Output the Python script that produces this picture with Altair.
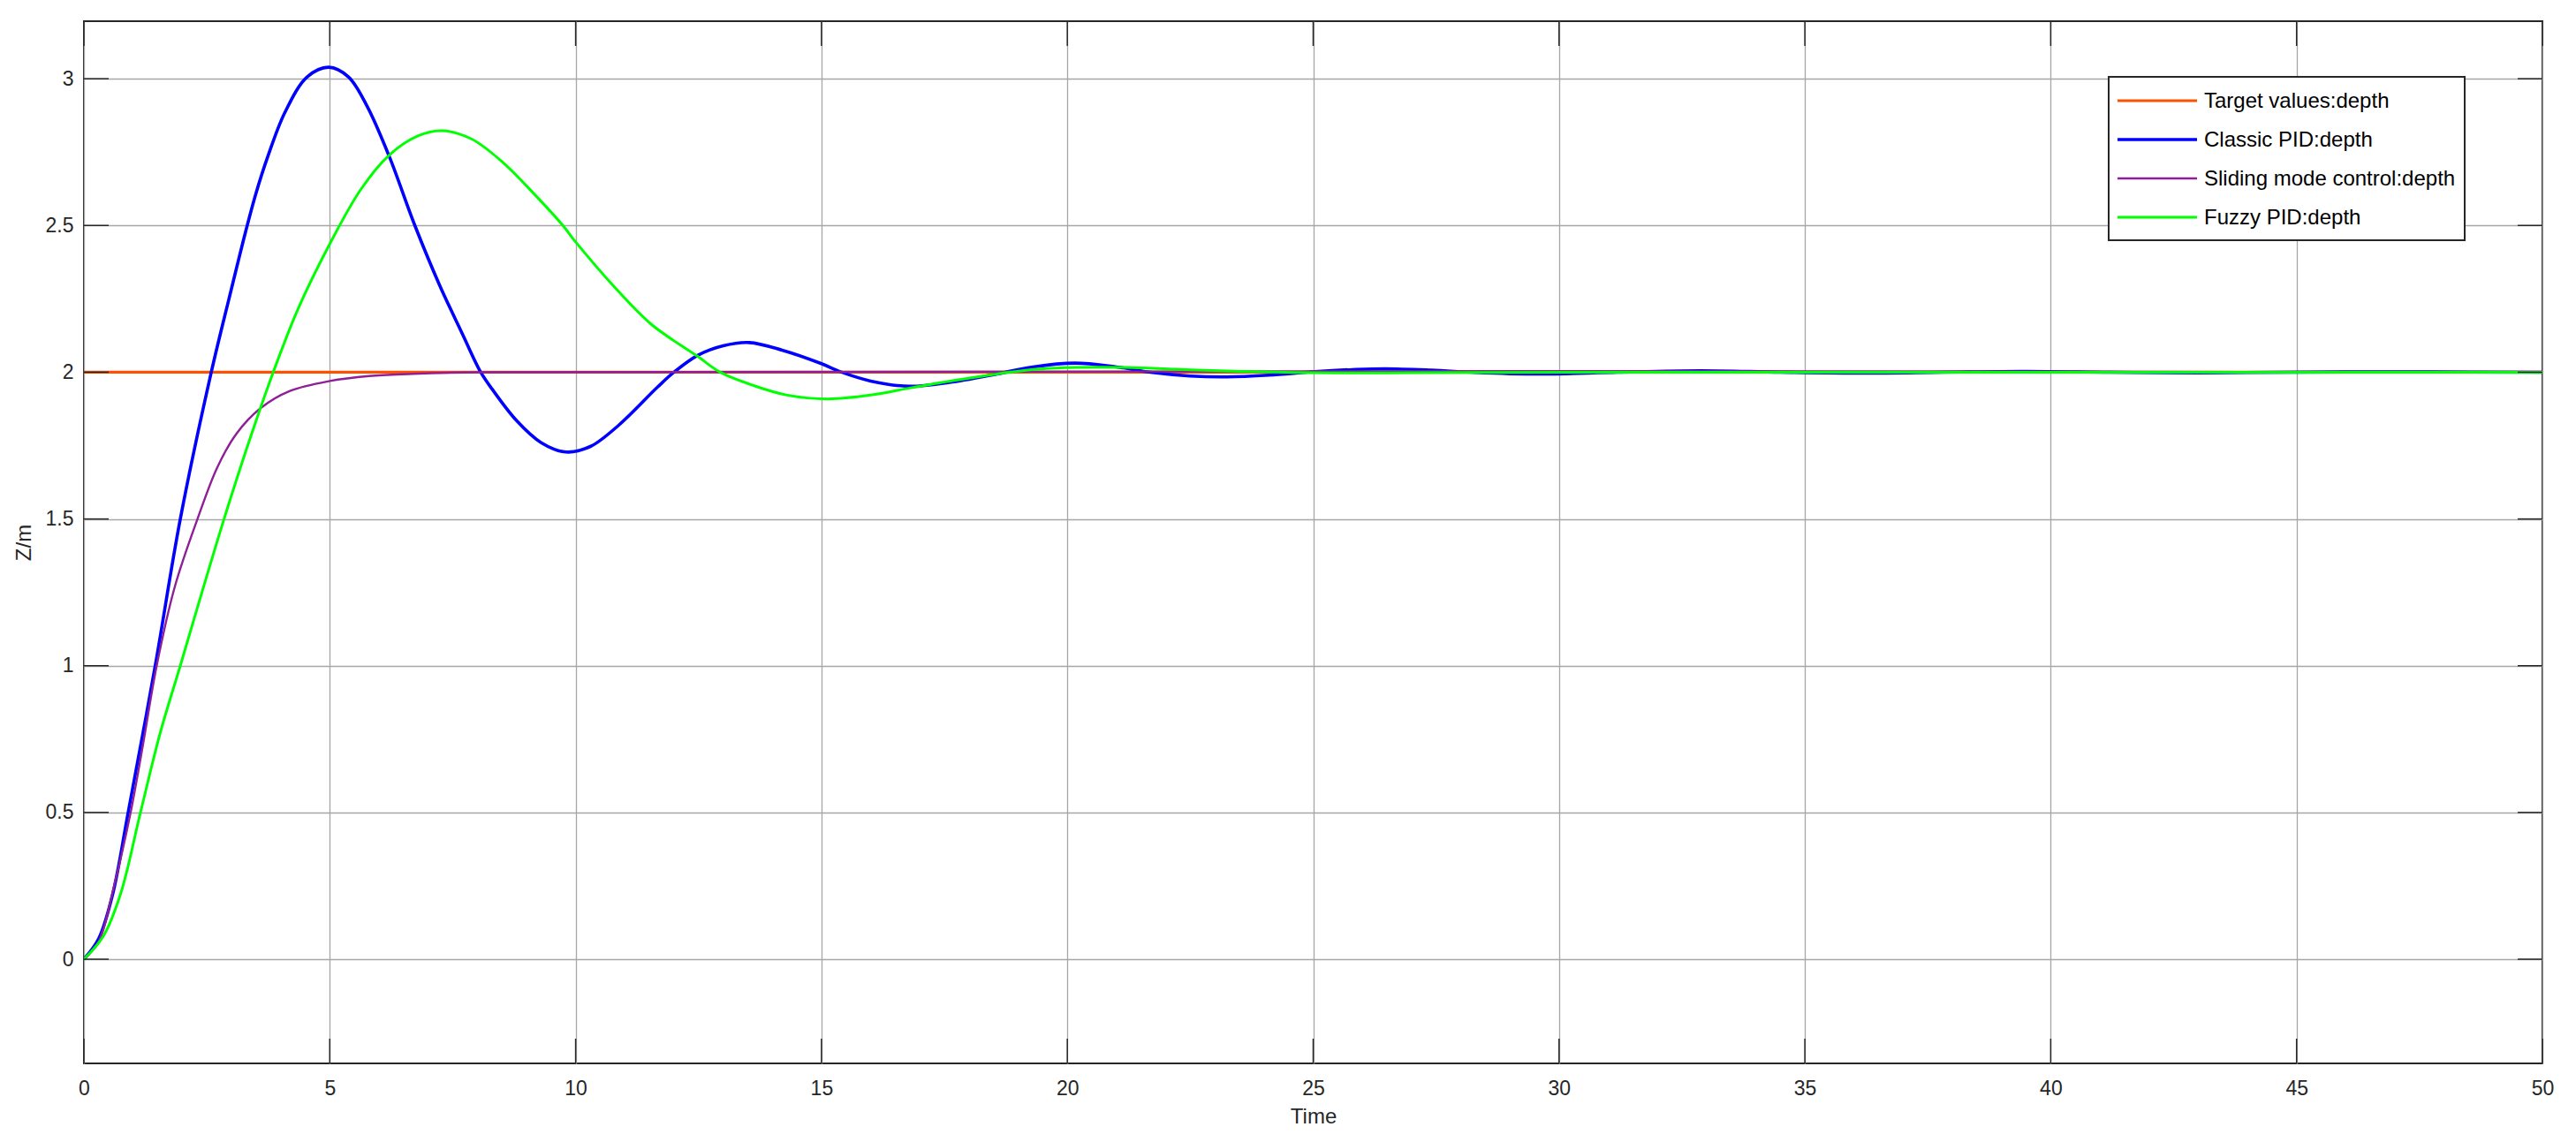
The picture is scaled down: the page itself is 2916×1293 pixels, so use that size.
import altair as alt
import pandas as pd

# ---------------- data ----------------
series_names = ["Target values:depth", "Classic PID:depth",
                "Sliding mode control:depth", "Fuzzy PID:depth"]
series_colors = ["#FF5000", "#0000FF", "#8E1F96", "#00FF00"]
series_widths = [3.2, 3.6, 2.4, 3.0]

target_t = [0, 50]
target_z = [2, 2]

pid_t = [0, 0.3, 0.58, 0.9, 1.45, 1.96, 2.59, 2.95, 3.29, 3.5, 3.74, 4.09, 4.54, 4.98,
         5.38, 5.76, 6.21, 6.73, 7.24, 7.69, 8.07, 8.3, 8.8, 9.3, 9.8, 10.3, 10.88,
         11.67, 12.0, 12.49, 13.0, 13.53, 14.2, 15.0, 15.41, 16.0, 16.79, 17.6, 18.57,
         19.3, 20.15, 21.0, 21.73, 22.5, 23.24, 24.1, 25.03, 25.8, 26.47, 27.4, 28.3,
         29.0, 29.84, 31.2, 32.9, 34.5, 36.2, 37.8, 39.5, 41.2, 43.0, 46.0, 50.0]
pid_z = [0, 0.07, 0.218, 0.5, 1.0, 1.5, 2.0, 2.25, 2.48, 2.61, 2.735, 2.886, 3.006,
         3.039, 3.006, 2.906, 2.735, 2.5, 2.294, 2.133, 2.0, 1.943, 1.835, 1.76, 1.728,
         1.747, 1.82, 1.95, 2.0, 2.058, 2.09, 2.101, 2.075, 2.029, 2.0, 1.97, 1.952,
         1.965, 1.994, 2.018, 2.031, 2.018, 1.999, 1.987, 1.984, 1.99, 2.002, 2.009,
         2.012, 2.007, 1.999, 1.995, 1.994, 2.0, 2.005, 2.0, 1.997, 2.0, 2.003, 2.0,
         1.998, 2.001, 2.0]

smc_t = [0, 0.3, 0.6, 0.95, 1.2, 1.48, 1.85, 2.31, 2.71, 3.1, 3.59, 4.19, 5.0, 5.8,
         6.6, 8.0, 50.0]
smc_z = [0, 0.06, 0.24, 0.5, 0.73, 1.0, 1.27, 1.5, 1.675, 1.79, 1.877, 1.936, 1.97,
         1.987, 1.994, 2.0, 2.0]

fuzzy_t = [0, 0.4, 0.75, 1.15, 1.55, 1.96, 2.4, 2.85, 3.35, 3.85, 4.35, 4.99, 5.64,
           6.21, 6.79, 7.28, 7.88, 8.52, 9.17, 9.74, 10.0, 10.77, 11.54, 12.49, 12.94,
           13.63, 14.3, 15.14, 16.0, 16.79, 17.7, 18.57, 19.4, 20.2, 21.2, 22.2, 23.24,
           25.0, 27.0, 30.0, 35.0, 50.0]
fuzzy_z = [0, 0.08, 0.225, 0.5, 0.77, 1.0, 1.25, 1.5, 1.76, 2.0, 2.214, 2.434, 2.625,
           2.74, 2.805, 2.823, 2.795, 2.715, 2.605, 2.5, 2.444, 2.294, 2.163, 2.053, 2.0,
           1.954, 1.922, 1.909, 1.922, 1.946, 1.972, 1.994, 2.01, 2.016, 2.016, 2.01,
           2.004, 1.998, 1.998, 2.0, 2.0, 2.0]

x_ticks = [0, 5, 10, 15, 20, 25, 30, 35, 40, 45, 50]
y_ticks = [0, 0.5, 1, 1.5, 2, 2.5, 3]
x_domain = [0, 50]
y_domain = [-0.355, 3.196]

# ---------------- layout / style ----------------
W, H = 2783, 1180
FONT = "Liberation Sans"
INK = "#262626"
GRID = "#a6a6a6"
TICK = 28

xenc = alt.X("x:Q",
             scale=alt.Scale(domain=x_domain, nice=False, zero=False),
             axis=alt.Axis(values=x_ticks, format="d", title="Time", ticks=False,
                           domain=False, grid=True, gridColor=GRID, gridWidth=1.3,
                           labelFont=FONT, labelFontSize=23, labelColor=INK,
                           labelPadding=17, labelFlush=False,
                           titleFont=FONT, titleFontSize=24, titleColor=INK,
                           titleFontWeight="normal", titleX=W / 2, titleY=67,
                           titleBaseline="alphabetic", titleAlign="center"))
yenc = alt.Y("y:Q",
             scale=alt.Scale(domain=y_domain, nice=False, zero=False),
             axis=alt.Axis(values=y_ticks, format="~g", title="Z/m", ticks=False,
                           domain=False, grid=True, gridColor=GRID, gridWidth=1.3,
                           labelFont=FONT, labelFontSize=23, labelColor=INK,
                           labelPadding=12, labelFlush=False,
                           titleFont=FONT, titleFontSize=24, titleColor=INK,
                           titleFontWeight="normal", titleX=-61, titleY=H / 2,
                           titleAngle=270, titleBaseline="alphabetic",
                           titleAlign="center"))

series_data = [(target_t, target_z), (pid_t, pid_z), (smc_t, smc_z), (fuzzy_t, fuzzy_z)]

layers = []
for (ts, zs), name, col, w in zip(series_data, series_names, series_colors, series_widths):
    df = pd.DataFrame({"x": ts, "y": zs, "series": name})
    layers.append(
        alt.Chart(df).mark_line(interpolate="catmull-rom", color=col, strokeWidth=w,
                                clip=True).encode(x=xenc, y=yenc)
    )

# inward tick marks (MATLAB style) on all four sides
xt = pd.DataFrame({"x": x_ticks})
yt = pd.DataFrame({"y": y_ticks})
layers.append(alt.Chart(xt).mark_rule(color=INK, strokeWidth=1.5).encode(
    x=xenc, y=alt.value(H), y2=alt.value(H - TICK)))
layers.append(alt.Chart(xt).mark_rule(color=INK, strokeWidth=1.5).encode(
    x=xenc, y=alt.value(0), y2=alt.value(TICK)))
layers.append(alt.Chart(yt).mark_rule(color=INK, strokeWidth=1.5).encode(
    y=yenc, x=alt.value(0), x2=alt.value(TICK)))
layers.append(alt.Chart(yt).mark_rule(color=INK, strokeWidth=1.5).encode(
    y=yenc, x=alt.value(W), x2=alt.value(W - TICK)))

# legend box
dummy = pd.DataFrame({"d": [0]})
LX0, LX1, LY0, LY1 = 2292, 2695, 63, 248
layers.append(alt.Chart(dummy).mark_rect(fill="white", stroke=INK, strokeWidth=2).encode(
    x=alt.value(LX0), x2=alt.value(LX1), y=alt.value(LY0), y2=alt.value(LY1)))
for i, (name, col, w) in enumerate(zip(series_names, series_colors, series_widths)):
    yy = 90 + 44 * i
    layers.append(alt.Chart(dummy).mark_rule(color=col, strokeWidth=w).encode(
        x=alt.value(LX0 + 10), x2=alt.value(LX0 + 100), y=alt.value(yy)))
    layers.append(alt.Chart(dummy).mark_text(
        text=name, font=FONT, fontSize=24, color="black", align="left",
        baseline="middle").encode(x=alt.value(LX0 + 108), y=alt.value(yy + 1)))

chart = alt.layer(*layers).properties(
    width=W, height=H,
    autosize=alt.AutoSizeParams(type="none"),
    padding={"left": 87, "top": 16, "right": 20, "bottom": 84},
    background="white",
).configure_view(stroke=INK, strokeWidth=2)

chart.save("out.html", embed_options={"renderer": "svg", "actions": False})
